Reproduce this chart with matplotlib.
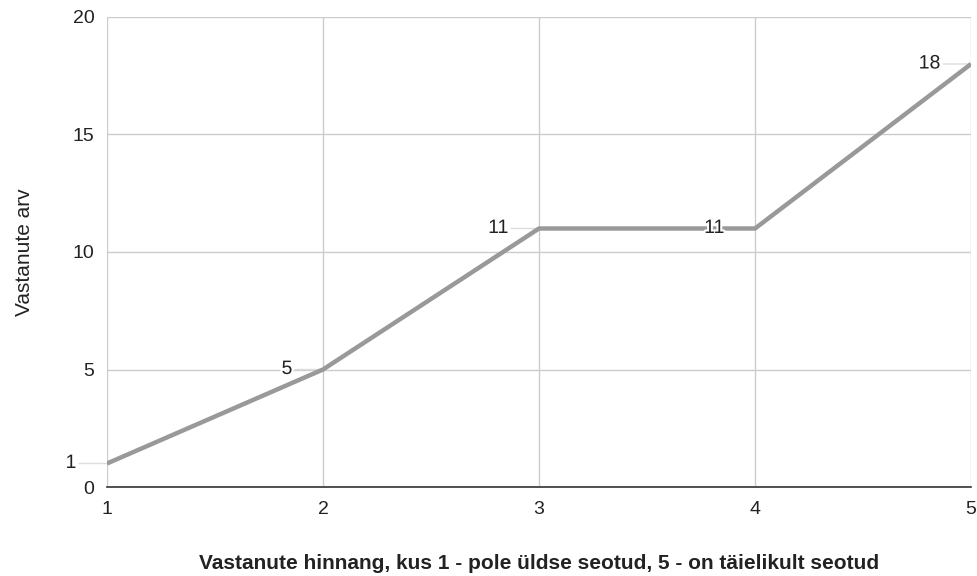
import matplotlib.pyplot as plt
import matplotlib.patheffects as pe

plt.rcParams['font.family'] = ['Liberation Sans', 'DejaVu Sans']

# data
hinnang = [1, 2, 3, 4, 5]
vastajad = [1, 5, 11, 11, 18]
x_ticks = [1, 2, 3, 4, 5]
y_ticks = [0, 5, 10, 15, 20]

fig = plt.figure(figsize=(9.77, 5.76), dpi=100)
ax = fig.add_axes([0.1095, 0.1545, 0.8844, 0.816])

ax.plot(hinnang, vastajad, color='#999999', linewidth=3.2, solid_capstyle='butt',
        solid_joinstyle='miter', zorder=3)

# data labels with short leader lines
for x, y in zip(hinnang, vastajad):
    ax.annotate('', xy=(x, y), xytext=(-20, 0), textcoords='offset points',
                arrowprops=dict(arrowstyle='-', color='#dddddd', lw=1,
                                shrinkA=0, shrinkB=0), zorder=2, annotation_clip=False)
    ax.annotate(str(y), xy=(x, y), xytext=(-22, 0), textcoords='offset points',
                ha='right', va='center', fontsize=14, color='#222222', zorder=4,
                path_effects=[pe.withStroke(linewidth=3, foreground='white')],
                annotation_clip=False)

ax.set_xlim(1, 5)
ax.set_ylim(0, 20)
ax.set_xticks(x_ticks)
ax.set_yticks(y_ticks)
ax.tick_params(length=0, labelsize=14, colors='#222222')
ax.tick_params(axis='x', pad=10)
ax.tick_params(axis='y', pad=9)

ax.grid(True, color='#cccccc', linewidth=1)
ax.set_axisbelow(True)
for s in ['top', 'right', 'left']:
    ax.spines[s].set_visible(False)
ax.spines['bottom'].set_color('#333333')
ax.spines['bottom'].set_linewidth(1.2)
ax.spines['bottom'].set_zorder(2.5)

ax.set_xlabel('Vastanute hinnang, kus 1 - pole üldse seotud, 5 - on täielikult seotud',
              fontsize=15, fontweight='bold', color='#222222', labelpad=26)
ax.set_ylabel('Vastanute arv', fontsize=15, color='#222222', labelpad=28)

plt.savefig('out.png', dpi=100)
